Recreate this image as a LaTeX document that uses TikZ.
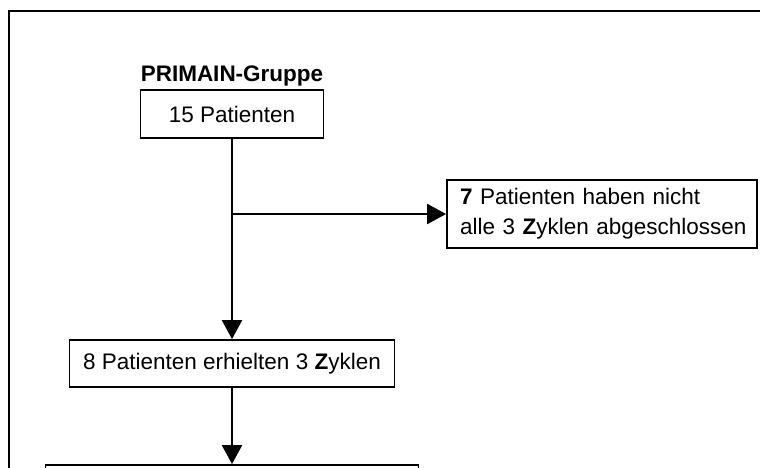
\documentclass[tikz,border=0pt]{standalone}
\usepackage{fontspec}
\setmainfont{Liberation Sans}
\usetikzlibrary{arrows.meta}
\begin{document}
\begin{tikzpicture}[x=1pt,y=-1pt,every node/.style={font=\fontsize{22.5}{30}\selectfont},
  box/.style={draw,line width=1.8pt,inner sep=0pt,align=center},
  arr/.style={-{Triangle[length=19pt,width=20pt]},line width=2.2pt}]
\useasboundingbox (0,0) rectangle (760,467);
\clip (0,0) rectangle (760,467);
\draw[line width=2.4pt] (9,490) -- (9,11) -- (780,11);
\node (grp) at (232,76) {\textbf{PRIMAIN-Gruppe}};
\node[box,minimum width=183,minimum height=48] (start) at (232,114) {15 Patienten};
\node[box,minimum width=310,minimum height=68,text width=296,align=left] (drop) at (602,214)
  {\hspace*{6pt}\textbf{7} Patienten haben nicht\\\hspace*{6pt}alle 3 \textbf{Z}yklen abgeschlossen};
\node[box,minimum width=325,minimum height=47] (mid) at (232,363.5) {8 Patienten erhielten 3 \textbf{Z}yklen};
\node[box,minimum width=373,minimum height=50] (next) at (232,490) {};
\coordinate (br) at (232,214);
\draw[arr] (start.south) -- (mid.north);
\draw[arr] (br) -- (drop.west);
\draw[arr] (mid.south) -- (next.north);
\end{tikzpicture}
\end{document}
